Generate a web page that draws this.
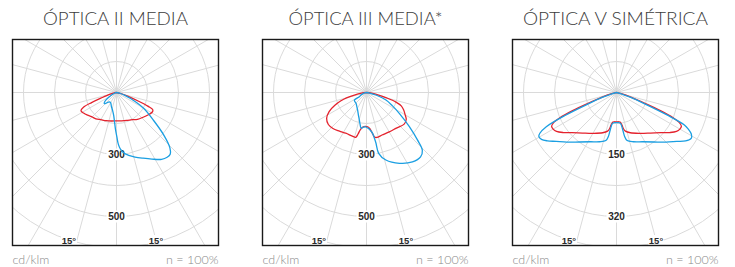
<!DOCTYPE html>
<html>
<head>
<meta charset="utf-8">
<script src="https://cdn.jsdelivr.net/npm/d3@7"></script>
<style>
  body { margin: 0; background: #fff; }
  svg { display: block; }
</style>
</head>
<body>
<script>
const w = 735;
const h = 267;

// titles and ring labels
const titles = ["ÓPTICA II MEDIA", "ÓPTICA III MEDIA*", "ÓPTICA V SIMÉTRICA"];
const ringLabels = [["300", "500"], ["300", "500"], ["150", "320"]];
const ringStep = [150, 150, 75]; // cd/klm per ring
const angleLabels = ["15°", "15°"];

// [angle from nadir in degrees (+ = right), cd/klm]
const optica2Red = [
  [-90, 0], [-80, 15], [-75, 35], [-70, 80], [-68, 130], [-66, 175], [-63, 193],
  [-58, 188], [-52, 178], [-46, 168], [-38, 162], [-30, 152], [-20, 145], [-10, 140],
  [0, 137], [10, 139], [20, 144], [30, 152], [38, 165], [48, 177], [55, 188],
  [61, 197], [64.5, 195], [66.5, 165], [68.5, 115], [71, 65], [76, 25], [90, 0]
];
const optica2Blue = [
  [-90, 0], [-70, 10], [-60, 40], [-53, 70], [-48, 80], [-44, 72], [-38, 57],
  [-30, 57], [-20, 72], [-12, 90], [-7, 112], [-4, 140], [-1.5, 180], [0.5, 215],
  [2, 250], [4, 275], [7, 295], [11, 310], [16, 325], [22, 343], [28, 365],
  [34, 390], [38, 398], [41, 396], [44, 372], [48, 308], [53, 225], [60, 150],
  [67, 74], [72, 40], [76, 20], [90, 0]
];

const optica3Red = [
  [-90, 0], [-82, 25], [-78, 60], [-75, 100], [-72, 130], [-68, 165], [-63, 203],
  [-57, 230], [-50, 241], [-43, 238], [-35, 228], [-27, 221], [-18, 222], [-13.5, 223],
  [-11.5, 205], [-9.5, 183], [-6, 168], [-2, 164], [2, 166], [5, 175], [8, 197],
  [10.5, 220], [13, 223], [20, 219], [30, 220], [40, 225], [50, 238], [56, 232],
  [60, 216], [65, 198], [69, 180], [72, 150], [75, 100], [78, 60], [82, 25], [90, 0]
];
const optica3Blue = [
  [-90, 0], [-75, 15], [-65, 30], [-60, 40], [-58, 69], [-50, 72], [-44, 73],
  [-35, 82], [-27, 95], [-20, 115], [-14.5, 138], [-11, 160], [-8.5, 175],
  [-5, 168], [-2, 166], [2, 172], [6, 185], [8.5, 200], [10, 230], [10.6, 250],
  [11.3, 300], [16, 340], [25, 378], [33.5, 403], [40, 407], [44, 389],
  [47, 338], [51.5, 265], [57.5, 188], [63, 140], [69, 101], [75, 47], [80, 15], [90, 0]
];

const optica5Red = [
  [-90, 0], [-76, 12], [-72, 35], [-69, 75], [-67.5, 115], [-66, 150], [-64.5, 168],
  [-62.5, 177], [-60, 177], [-57, 173], [-53, 161], [-48, 145], [-40, 128], [-30, 114],
  [-19, 103], [-13, 96], [-11, 90], [-9.5, 80], [-7, 72], [-4, 71], [0, 71],
  [4, 71], [7, 72], [9.5, 80], [11, 90], [13, 96], [19, 103], [30, 114], [40, 128],
  [48, 145], [53, 161], [57, 173], [60, 177], [62.5, 177], [64.5, 168], [66, 150],
  [67.5, 115], [69, 75], [72, 35], [76, 12], [90, 0]
];
const optica5Blue = [
  [-90, 0], [-75, 12], [-71, 35], [-68, 75], [-66, 135], [-64, 189], [-62, 210],
  [-60.5, 216], [-58, 214], [-55, 204], [-51, 188], [-45, 170], [-37, 150], [-28, 135],
  [-19, 126], [-12.5, 119], [-10.5, 108], [-9.5, 92], [-7.5, 76], [-4, 73], [0, 73],
  [4, 73], [7.5, 76], [9.5, 92], [10.5, 108], [12.5, 119], [19, 126], [28, 135],
  [37, 150], [45, 170], [51, 188], [55, 204], [58.5, 212], [61, 207], [63, 195],
  [64.5, 182], [66, 135], [68, 75], [71, 35], [75, 12], [90, 0]
];

const panels = [
  { title: titles[0], rings: ringLabels[0], step: ringStep[0], red: optica2Red, blue: optica2Blue },
  { title: titles[1], rings: ringLabels[1], step: ringStep[1], red: optica3Red, blue: optica3Blue },
  { title: titles[2], rings: ringLabels[2], step: ringStep[2], red: optica5Red, blue: optica5Blue }
];

const boxSize = 206;
const boxTop = 39.5;
const centerDy = 53;
const ringPx = 31;
const redColor = "#e4222d";
const blueColor = "#1b9fe2";
const gridColor = "#dadada";
const titleWidths = [145, 154, 185];

const svg = d3
  .select("body")
  .append("svg")
  .attr("width", w)
  .attr("height", h);

panels.forEach((p, i) => {
  const bx = 12.5 + 250 * i;
  const cx = bx + 104;
  const cy = boxTop + centerDy;

  const rScale = d3
    .scaleLinear()
    .domain([0, p.step])
    .range([0, ringPx]);

  const g = svg.append("g");

  // title
  g.append("text")
    .attr("x", bx + boxSize / 2)
    .attr("y", 25)
    .attr("text-anchor", "middle")
    .attr("textLength", titleWidths[i])
    .attr("lengthAdjust", "spacingAndGlyphs")
    .style("font-family", "Lato, 'Open Sans', sans-serif")
    .style("font-weight", "300")
    .style("font-size", "17.5px")
    .style("fill", "#3c3c3c")
    .text(p.title);

  // clip to the box
  g.append("clipPath")
    .attr("id", "clip" + i)
    .append("rect")
    .attr("x", bx)
    .attr("y", boxTop)
    .attr("width", boxSize)
    .attr("height", boxSize);

  const plot = g
    .append("g")
    .attr("clip-path", "url(#clip" + i + ")")
    .append("g")
    .attr("transform", "translate(" + cx + "," + cy + ")");

  // rings
  plot
    .selectAll("circle.ring")
    .data(d3.range(1, 8).map(k => k * p.step))
    .enter()
    .append("circle")
    .attr("class", "ring")
    .attr("r", d => rScale(d))
    .attr("fill", "none")
    .attr("stroke", gridColor)
    .attr("stroke-width", 1);

  // radial lines every 15 degrees
  const rMax = rScale(p.step * 8);
  plot
    .selectAll("line.spoke")
    .data(d3.range(0, 360, 15))
    .enter()
    .append("line")
    .attr("class", "spoke")
    .attr("x1", 0)
    .attr("y1", 0)
    .attr("x2", d => rMax * Math.sin((d * Math.PI) / 180))
    .attr("y2", d => rMax * Math.cos((d * Math.PI) / 180))
    .attr("stroke", gridColor)
    .attr("stroke-width", 1);

  // ring labels on ring 2 and ring 4
  p.rings.forEach((t, j) => {
    const y = rScale(p.step * (j * 2 + 2));
    plot
      .append("rect")
      .attr("x", -10)
      .attr("y", y - 6)
      .attr("width", 20)
      .attr("height", 12)
      .attr("fill", "#fff");
    plot
      .append("text")
      .attr("x", 0)
      .attr("y", y + 3.5)
      .attr("text-anchor", "middle")
      .style("font-family", "'Liberation Sans', Arial, sans-serif")
      .style("font-size", "10px")
      .style("font-weight", "600")
      .style("fill", "#2a2a2a")
      .text(t);
  });

  // 15° labels near the bottom edge
  const ly = boxSize - centerDy - 5.5;
  angleLabels.forEach((t, j) => {
    const sign = j === 0 ? -1 : 1;
    const lx = sign * ly * Math.tan((15 * Math.PI) / 180) + (j === 0 ? -8 : 0);
    plot
      .append("rect")
      .attr("x", lx - 8)
      .attr("y", ly - 5)
      .attr("width", 16)
      .attr("height", 10)
      .attr("fill", "#fff");
    plot
      .append("text")
      .attr("x", lx)
      .attr("y", ly + 3.5)
      .attr("text-anchor", "middle")
      .style("font-family", "'Liberation Sans', Arial, sans-serif")
      .style("font-size", "9.5px")
      .style("font-weight", "600")
      .style("fill", "#2a2a2a")
      .text(t);
  });

  // photometric curves
  const line = d3
    .lineRadial()
    .angle(d => Math.PI - (d[0] * Math.PI) / 180)
    .radius(d => rScale(d[1]))
    .curve(d3.curveCatmullRom.alpha(0.5));

  plot
    .append("path")
    .attr("d", line(p.red))
    .attr("fill", "none")
    .attr("stroke", redColor)
    .attr("stroke-width", 1.3)
    .attr("stroke-linejoin", "round");

  plot
    .append("path")
    .attr("d", line(p.blue))
    .attr("fill", "none")
    .attr("stroke", blueColor)
    .attr("stroke-width", 1.3)
    .attr("stroke-linejoin", "round");

  // frame
  g.append("rect")
    .attr("x", bx)
    .attr("y", boxTop)
    .attr("width", boxSize)
    .attr("height", boxSize)
    .attr("fill", "none")
    .attr("stroke", "#1a1a1a")
    .attr("stroke-width", 1.4);

  // footer
  g.append("text")
    .attr("x", bx)
    .attr("y", 264)
    .style("font-family", "Lato, 'Open Sans', sans-serif")
    .style("font-weight", "300")
    .style("font-size", "12.5px")
    .style("fill", "#8a8a8a")
    .text("cd/klm");

  g.append("text")
    .attr("x", bx + boxSize)
    .attr("y", 264)
    .attr("text-anchor", "end")
    .style("font-family", "Lato, 'Open Sans', sans-serif")
    .style("font-weight", "300")
    .style("font-size", "12.5px")
    .style("fill", "#8a8a8a")
    .text("n = 100%");
});
</script>
</body>
</html>
